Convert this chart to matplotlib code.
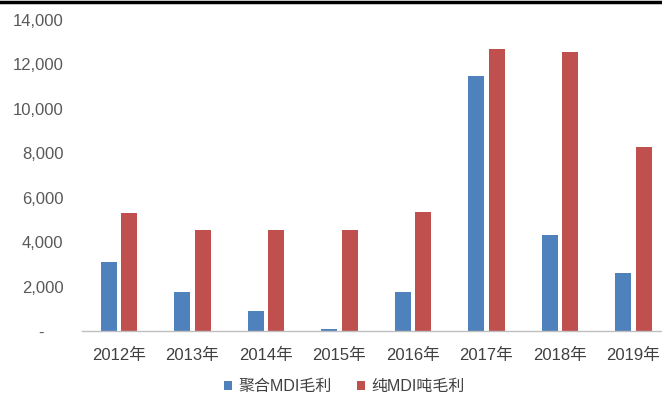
import matplotlib.pyplot as plt
import numpy as np
from matplotlib.ticker import FuncFormatter

plt.rcParams['font.family'] = ['Liberation Sans', 'Noto Sans CJK SC', 'DejaVu Sans']

BLUE = "#4F81BD"
RED = "#C0504D"

years = ["2012年", "2013年", "2014年", "2015年", "2016年", "2017年", "2018年", "2019年"]
poly_mdi = [3100, 1750, 900, 100, 1750, 11500, 4300, 2600]
pure_mdi = [5300, 4550, 4550, 4550, 5370, 12700, 12550, 8270]
series_names = ["聚合MDI毛利", "纯MDI吨毛利"]

fig = plt.figure(figsize=(6.62, 4.01), dpi=100, facecolor="white")
ax = fig.add_axes([0.124, 0.1746, 0.876, 0.7754])

x = np.arange(len(years))
w = 0.217
ax.bar(x - 0.14, poly_mdi, w, color=BLUE, label=series_names[0])
ax.bar(x + 0.14, pure_mdi, w, color=RED, label=series_names[1])

ax.set_xlim(-0.5, 7.39)
ax.set_ylim(0, 14000)
ax.set_yticks(range(0, 14001, 2000))
# accounting-style zero: a dash padded away from the axis
ax.yaxis.set_major_formatter(FuncFormatter(lambda v, p: "-    " if v == 0 else f"{int(v):,}"))
ax.set_xticks(x)
ax.set_xticklabels(years)

for s in ["top", "right", "left"]:
    ax.spines[s].set_visible(False)
ax.spines["bottom"].set_color("#BFBFBF")
ax.spines["bottom"].set_linewidth(1.0)
ax.tick_params(axis="y", length=0, pad=13.5, labelsize=12, labelcolor="#595959")
ax.tick_params(axis="x", length=0, pad=12, labelsize=12, labelcolor="#404040")

fig.legend(loc="center", bbox_to_anchor=(0.52, 0.035), ncol=2, frameon=False,
           fontsize=11.5, handlelength=0.5, handleheight=0.5, handletextpad=0.4,
           columnspacing=1.6, labelcolor="#404040")

# black frame line along the top edge
fig.add_artist(plt.Line2D([0, 1], [0.996, 0.996], color="black", linewidth=2.5,
                          transform=fig.transFigure))

fig.savefig("out.png", dpi=100, facecolor="white")
